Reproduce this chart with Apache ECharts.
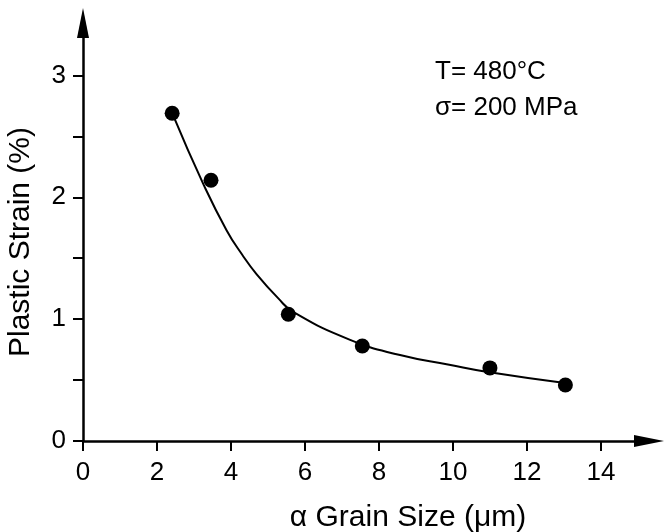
<!DOCTYPE html>
<html>
<head>
<meta charset="utf-8">
<script src="https://cdn.jsdelivr.net/npm/echarts@6/dist/echarts.min.js"></script>
<style>html,body{margin:0;padding:0;background:#fff;}#chart{width:664px;height:532px;}</style>
</head>
<body>
<div id="chart"></div>
<script>
// Measured data points (grain size µm, plastic strain %)
const pointX = [2.41, 3.46, 5.55, 7.55, 11.0, 13.04];
const pointY = [2.69, 2.14, 1.04, 0.78, 0.60, 0.46];
// Fitted curve
const curveX = [2.44, 3.25, 3.88, 4.3, 4.69, 5.28, 5.68, 7.22, 8.57, 9.9, 10.9, 12.98];
const curveY = [2.67, 2.11, 1.73, 1.53, 1.37, 1.17, 1.06, 0.83, 0.705, 0.625, 0.568, 0.478];
// Axis ticks
const xTickLabels = [0, 2, 4, 6, 8, 10, 12, 14];
const yTickLabels = [0, 1, 2, 3];
const yTickMarks = [0, 0.5, 1, 1.5, 2, 2.5, 3];
const annotationLines = ['T= 480°C', 'σ= 200 MPa'];
const xTitle = 'α Grain Size (μm)';
const yTitle = 'Plastic Strain (%)';

const FONT = '"Liberation Sans", Arial, sans-serif';
const chart = echarts.init(document.getElementById('chart'), null, {renderer: 'canvas'});

const axisCommon = {
  type: 'value',
  splitLine: {show: false},
  axisLine: {show: true, symbol: ['none', 'triangle'], symbolSize: [12, 30],
             lineStyle: {color: '#000', width: 2.5}},
  axisTick: {show: true, inside: false, length: 10, lineStyle: {color: '#000', width: 2}},
  nameTextStyle: {fontFamily: FONT, fontSize: 30, color: '#000'}
};

chart.setOption({
  animation: false,
  backgroundColor: '#fff',
  grid: {left: 83, top: 23, right: 15, bottom: 91, containLabel: false, outerBoundsMode: 'none'},
  xAxis: Object.assign({}, axisCommon, {
    min: 0, max: 15.3, interval: 2,
    axisTick: Object.assign({}, axisCommon.axisTick, {customValues: xTickLabels}),
    axisLabel: {customValues: xTickLabels, margin: 19, fontFamily: FONT, fontSize: 26, color: '#000'},
    name: xTitle, nameLocation: 'middle', nameGap: 62,
    nameTextStyle: Object.assign({}, axisCommon.nameTextStyle, {padding: [0, 0, 0, 84]})
  }),
  yAxis: Object.assign({}, axisCommon, {
    min: 0, max: 3.43, interval: 0.5,
    axisTick: Object.assign({}, axisCommon.axisTick, {customValues: yTickMarks}),
    axisLabel: {customValues: yTickLabels, margin: 17, fontFamily: FONT, fontSize: 26, color: '#000'},
    name: yTitle, nameLocation: 'middle', nameGap: 47, nameRotate: 90,
    nameTextStyle: Object.assign({}, axisCommon.nameTextStyle, {padding: [0, 20, 0, 0]})
  }),
  graphic: annotationLines.map((t, i) => ({
    type: 'text', left: 435, top: 59 + i * 36,
    style: {text: t, font: '26px ' + FONT, fill: '#000'}
  })),
  series: [
    {
      type: 'line', data: curveX.map((x, i) => [x, curveY[i]]),
      smooth: 0.5, showSymbol: false, symbol: 'none',
      lineStyle: {color: '#000', width: 2}, z: 2
    },
    {
      type: 'scatter', data: pointX.map((x, i) => [x, pointY[i]]),
      symbol: 'circle', symbolSize: 15, itemStyle: {color: '#000', opacity: 1}, z: 3
    }
  ]
});
</script>
</body>
</html>
